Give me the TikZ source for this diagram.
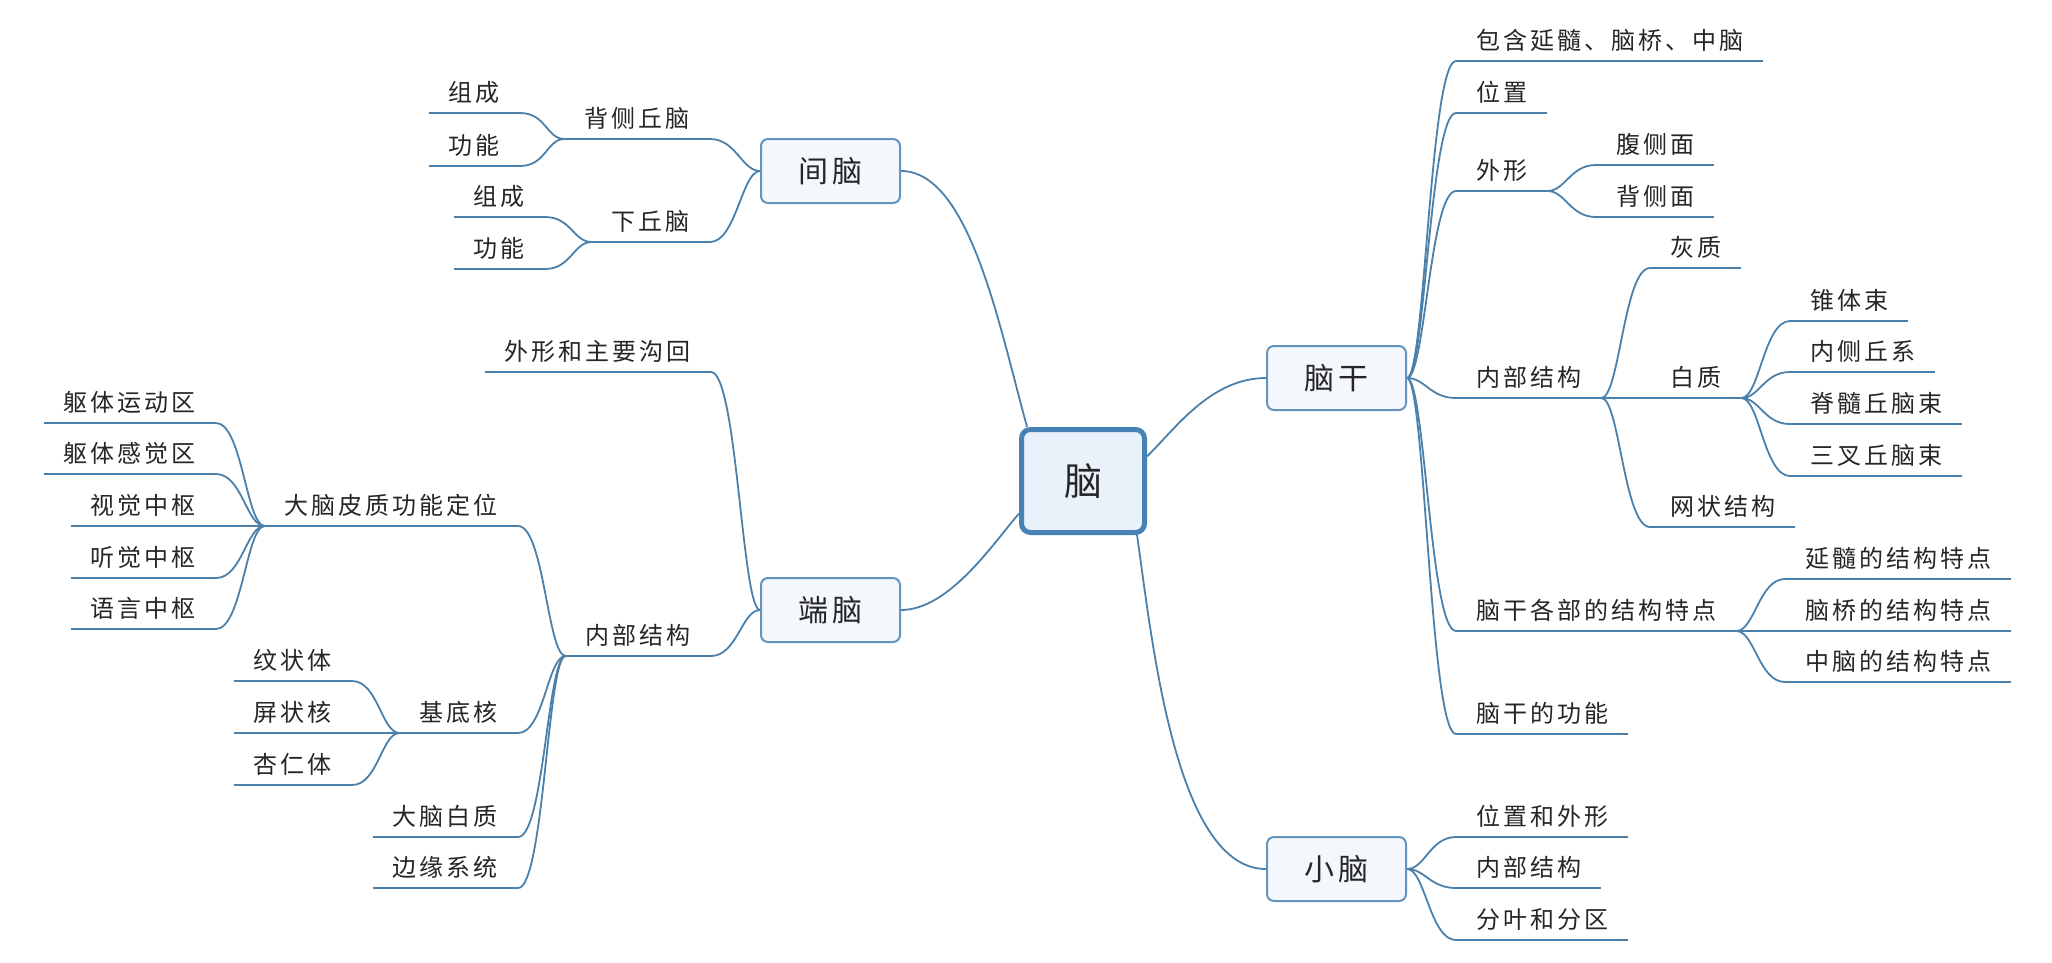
\documentclass[tikz,border=0pt]{standalone}
\usepackage{fontspec}
\setmainfont{Noto Sans CJK SC}
\usetikzlibrary{calc,backgrounds}
\definecolor{lnc}{RGB}{74,128,170}
\definecolor{cbd}{RGB}{70,130,180}
\definecolor{cfill}{RGB}{233,242,251}
\definecolor{bbd}{RGB}{98,148,190}
\definecolor{bfill}{RGB}{244,248,252}
\definecolor{txt}{RGB}{38,38,38}
\makeatletter
\def\lsk{4pt}
\def\ls#1{\ls@a#1\@nil}
\def\ls@a#1#2\@nil{#1\ifx\relax#2\relax\else\kern\lsk\relax\ls@a#2\@nil\fi}
\makeatother
\tikzset{
  topic/.style={inner xsep=20pt, inner ysep=0pt, text height=21.1pt, text depth=10.9pt,
    font=\fontsize{24pt}{24pt}\selectfont\def\lsk{3pt}, text=txt},
  rtopic/.style={topic, anchor=south west},
  ltopic/.style={topic, anchor=south east},
  uline/.style={draw=lnc, line width=1.8pt},
  conn/.style={draw=lnc, line width=1.8pt},
  mainbox/.style={draw=bbd, fill=bfill, line width=2pt, rounded corners=7pt,
    minimum width=139pt, minimum height=64pt, inner sep=0pt, text=txt,
    text height=26.4pt, text depth=3.6pt,
    font=\fontsize{30pt}{30pt}\selectfont\def\lsk{5pt}},
  centralbox/.style={draw=cbd, fill=cfill, line width=5pt, rounded corners=9pt,
    minimum width=123pt, minimum height=103pt, inner sep=0pt, text=txt,
    text height=33.4pt, text depth=4.6pt,
    font=\fontsize{38pt}{38pt}\selectfont}
}
\begin{document}
\begin{tikzpicture}[x=1pt,y=-1pt]
\useasboundingbox (0,0) rectangle (2052,962);
% central and main boxes
\node[centralbox] (nao) at (1083,481) {脑};
\node[mainbox] (ng) at (1336.5,378) {\ls{脑干}};
\node[mainbox] (xn) at (1336.5,869) {\ls{小脑}};
\node[mainbox] (jn) at (830.5,171) {\ls{间脑}};
\node[mainbox] (dn) at (830.5,610) {\ls{端脑}};
% right topics
\node[rtopic] (r1) at (1456,61) {\ls{包含延髓、脑桥、中脑}};
\node[rtopic] (r2) at (1456,113) {\ls{位置}};
\node[rtopic] (r3) at (1456,191) {\ls{外形}};
\node[rtopic] (r31) at (1596,165) {\ls{腹侧面}};
\node[rtopic] (r32) at (1596,217) {\ls{背侧面}};
\node[rtopic] (r4) at (1456,398) {\ls{内部结构}};
\node[rtopic] (r41) at (1650,268) {\ls{灰质}};
\node[rtopic] (r42) at (1650,398) {\ls{白质}};
\node[rtopic] (r421) at (1790,321) {\ls{锥体束}};
\node[rtopic] (r422) at (1790,372) {\ls{内侧丘系}};
\node[rtopic] (r423) at (1790,424) {\ls{脊髓丘脑束}};
\node[rtopic] (r424) at (1790,476) {\ls{三叉丘脑束}};
\node[rtopic] (r43) at (1650,527) {\ls{网状结构}};
\node[rtopic] (r5) at (1456,631) {\ls{脑干各部的结构特点}};
\node[rtopic] (r51) at (1785,579) {\ls{延髓的结构特点}};
\node[rtopic] (r52) at (1785,631) {\ls{脑桥的结构特点}};
\node[rtopic] (r53) at (1785,682) {\ls{中脑的结构特点}};
\node[rtopic] (r6) at (1456,734) {\ls{脑干的功能}};
\node[rtopic] (s1) at (1456,837) {\ls{位置和外形}};
\node[rtopic] (s2) at (1456,888) {\ls{内部结构}};
\node[rtopic] (s3) at (1456,940) {\ls{分叶和分区}};
% left topics
\node[ltopic] (l1) at (710,139) {\ls{背侧丘脑}};
\node[ltopic] (l11) at (520,113) {\ls{组成}};
\node[ltopic] (l12) at (520,166) {\ls{功能}};
\node[ltopic] (l2) at (710,242) {\ls{下丘脑}};
\node[ltopic] (l21) at (545,217) {\ls{组成}};
\node[ltopic] (l22) at (545,269) {\ls{功能}};
\node[ltopic] (l3) at (711,372) {\ls{外形和主要沟回}};
\node[ltopic] (l4) at (711,656) {\ls{内部结构}};
\node[ltopic] (l41) at (518,526) {\ls{大脑皮质功能定位}};
\node[ltopic] (l411) at (216,423) {\ls{躯体运动区}};
\node[ltopic] (l412) at (216,474) {\ls{躯体感觉区}};
\node[ltopic] (l413) at (216,526) {\ls{视觉中枢}};
\node[ltopic] (l414) at (216,578) {\ls{听觉中枢}};
\node[ltopic] (l415) at (216,629) {\ls{语言中枢}};
\node[ltopic] (l42) at (518,733) {\ls{基底核}};
\node[ltopic] (l421) at (352,681) {\ls{纹状体}};
\node[ltopic] (l422) at (352,733) {\ls{屏状核}};
\node[ltopic] (l423) at (352,785) {\ls{杏仁体}};
\node[ltopic] (l43) at (518,837) {\ls{大脑白质}};
\node[ltopic] (l44) at (518,888) {\ls{边缘系统}};
% underlines
\foreach \n in {r1,r2,r3,r31,r32,r4,r41,r42,r421,r422,r423,r424,r43,r5,r51,r52,r53,r6,s1,s2,s3,
  l1,l11,l12,l2,l21,l22,l3,l4,l41,l411,l412,l413,l414,l415,l42,l421,l422,l423,l43,l44}
  \draw[uline] (\n.south west) -- (\n.south east);
\begin{scope}[on background layer]
\fill[white] (0,0) rectangle (2052,962);
% central connectors
\draw[conn] (nao.21) .. controls +(27,-26) and +(-56,0) .. (ng.west);
\draw[conn] (nao.207) .. controls +(-24,27) and +(49,0) .. (dn.east);
\draw[conn] (nao.136) .. controls +(-27,-97) and +(69,0) .. (jn.east);
\draw[conn] (nao.-45) .. controls +(15,104) and +(-91,0) .. (xn.west);
% right side connectors
\foreach \p/\c in {ng.east/r1, ng.east/r2, ng.east/r3, ng.east/r4, ng.east/r5, ng.east/r6,
  r3.south east/r31, r3.south east/r32,
  r4.south east/r41, r4.south east/r42, r4.south east/r43,
  r42.south east/r421, r42.south east/r422, r42.south east/r423, r42.south east/r424,
  r5.south east/r51, r5.south east/r52, r5.south east/r53,
  xn.east/s1, xn.east/s2, xn.east/s3}
  \draw[conn] (\p) .. controls +(18,0) and +(-26,0) .. (\c.south west);
% left side connectors
\foreach \p/\c in {jn.west/l1, jn.west/l2,
  l1.south west/l11, l1.south west/l12, l2.south west/l21, l2.south west/l22,
  dn.west/l3, dn.west/l4,
  l4.south west/l41, l4.south west/l42, l4.south west/l43, l4.south west/l44,
  l41.south west/l411, l41.south west/l412, l41.south west/l413, l41.south west/l414, l41.south west/l415,
  l42.south west/l421, l42.south west/l422, l42.south west/l423}
  \draw[conn] (\p) .. controls +(-18,0) and +(26,0) .. (\c.south east);
\end{scope}
\end{tikzpicture}
\end{document}
